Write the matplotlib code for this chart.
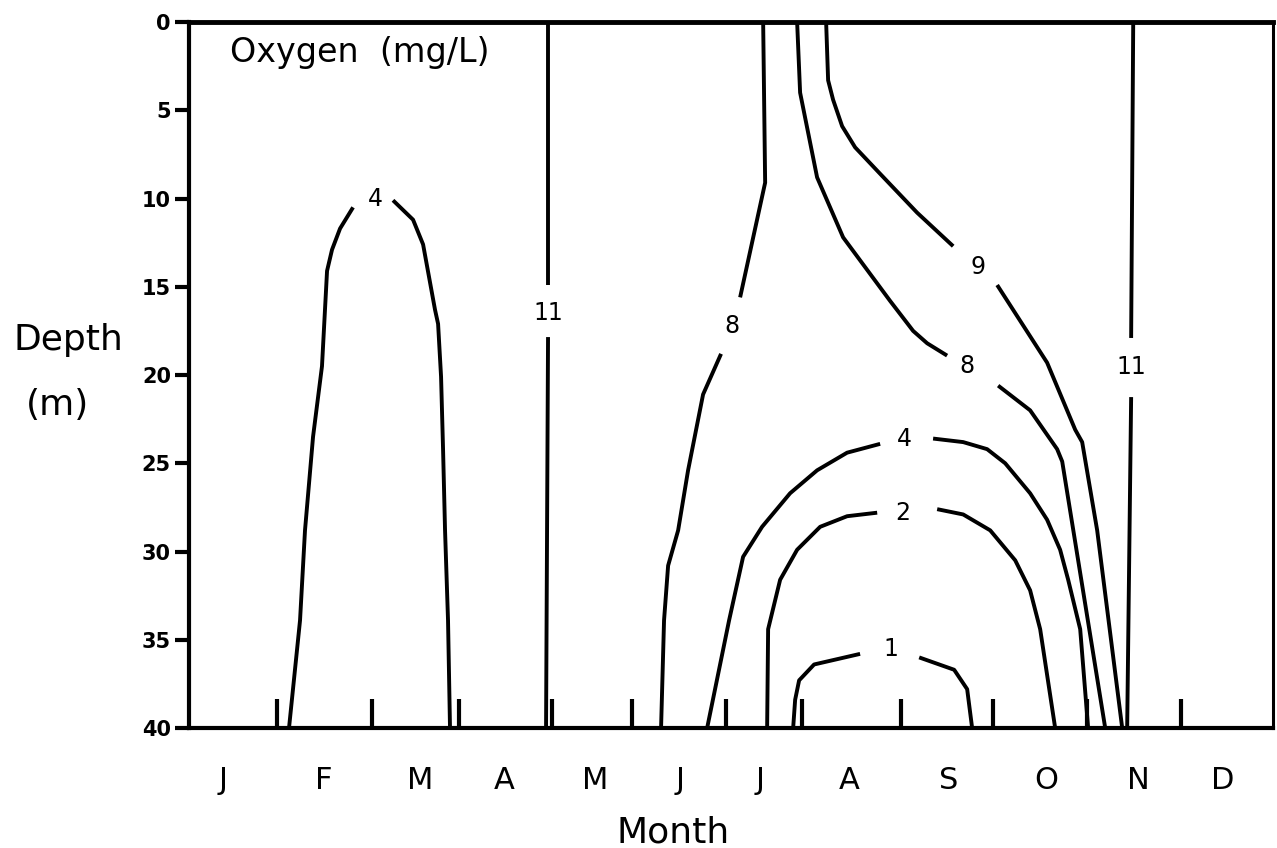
import matplotlib
matplotlib.use("Agg")
import matplotlib.pyplot as plt

# x = time of year in months (0 = start of Jan), y = depth in m
month_names = ["J", "F", "M", "A", "M", "J", "J", "A", "S", "O", "N", "D"]
month_pos = [0.38, 1.49, 2.56, 3.49, 4.50, 5.43, 6.32, 7.31, 8.41, 9.49, 10.51, 11.44]
sample_dates = [0.97, 2.03, 2.99, 4.02, 4.90, 5.94, 6.79, 7.88, 8.90, 9.94, 10.98]
depth_ticks = [0, 5, 10, 15, 20, 25, 30, 35, 40]

# isoline vertices (month, depth), split where the label sits
o4_winter_a = [(1.107, 40.0), (1.229, 33.9), (1.284, 28.8), (1.373, 23.5), (1.472, 19.5),
               (1.528, 14.1), (1.583, 12.9), (1.672, 11.7), (1.816, 10.5)]
o4_winter_b = [(2.258, 10.1), (2.480, 11.2), (2.591, 12.6), (2.723, 16.3), (2.757, 17.1),
               (2.790, 20.1), (2.812, 24.2), (2.834, 28.8), (2.867, 33.9), (2.889, 40.0)]
o11_spring_a = [(3.974, 0.0), (3.974, 14.9)]
o11_spring_b = [(3.974, 17.85), (3.952, 40.0)]
o8_early_a = [(6.355, 0.0), (6.377, 9.1), (6.100, 15.6)]
o8_early_b = [(5.889, 18.8), (5.690, 21.1), (5.524, 25.4), (5.414, 28.8), (5.303, 30.8),
              (5.258, 33.9), (5.225, 40.0)]
o8_late_a = [(6.731, 0.0), (6.764, 4.0), (6.952, 8.8), (7.240, 12.2), (7.760, 15.8),
             (8.015, 17.5), (8.170, 18.2), (8.391, 18.9)]
o8_late_b = [(8.956, 20.6), (9.310, 22.0), (9.609, 24.2), (9.665, 24.9), (10.141, 40.0)]
o9_a = [(7.052, 0.0), (7.074, 3.3), (7.129, 4.4), (7.229, 5.9), (7.373, 7.1), (7.650, 8.6),
        (8.059, 10.8), (8.458, 12.7)]
o9_b = [(8.945, 14.9), (9.498, 19.3), (9.809, 23.1), (9.886, 23.8), (10.052, 28.8),
        (10.329, 40.0)]
o4_summer_a = [(5.735, 40.0), (5.978, 33.9), (6.133, 30.3), (6.343, 28.6), (6.653, 26.7),
               (6.952, 25.4), (7.284, 24.4), (7.650, 23.9)]
o4_summer_b = [(8.236, 23.6), (8.569, 23.8), (8.834, 24.2), (9.034, 25.0), (9.310, 26.7),
               (9.498, 28.2), (9.642, 29.9), (9.731, 31.6), (9.864, 34.4), (9.952, 40.0)]
o2_a = [(6.399, 40.0), (6.410, 34.4), (6.543, 31.6), (6.731, 29.9), (6.986, 28.6),
        (7.284, 28.0), (7.617, 27.8)]
o2_b = [(8.281, 27.6), (8.569, 27.9), (8.868, 28.8), (9.145, 30.5), (9.310, 32.2),
        (9.421, 34.4), (9.587, 40.0)]
o1_a = [(6.687, 40.0), (6.709, 38.4), (6.753, 37.3), (6.919, 36.4), (7.428, 35.8)]
o1_b = [(8.082, 36.0), (8.469, 36.7), (8.613, 37.8), (8.668, 40.0)]
o11_autumn_a = [(10.451, 0.0), (10.428, 17.9)]
o11_autumn_b = [(10.428, 21.25), (10.384, 40.0)]

segments = [o4_winter_a, o4_winter_b, o11_spring_a, o11_spring_b, o8_early_a, o8_early_b,
            o8_late_a, o8_late_b, o9_a, o9_b, o4_summer_a, o4_summer_b, o2_a, o2_b,
            o1_a, o1_b, o11_autumn_a, o11_autumn_b]

label_text = ["4", "11", "8", "8", "9", "4", "2", "1", "11"]
label_month = [2.06, 3.974, 6.011, 8.613, 8.735, 7.915, 7.904, 7.772, 10.428]
label_depth = [10.0, 16.5, 17.2, 19.5, 13.9, 23.6, 27.8, 35.5, 19.55]

fig = plt.figure(figsize=(12.77, 8.48), dpi=100)
ax = fig.add_axes([0.148, 0.1415, 0.849, 0.8325])

for seg in segments:
    xs = [p[0] for p in seg]
    ys = [p[1] for p in seg]
    ax.plot(xs, ys, color="black", lw=2.8, solid_joinstyle="round", solid_capstyle="butt")

for t, x, y in zip(label_text, label_month, label_depth):
    ax.text(x, y, t, fontsize=17, ha="center", va="center")

ax.set_xlim(0, 12)
ax.set_ylim(40, 0)

ax.set_yticks(depth_ticks)
ax.set_yticklabels([str(d) for d in depth_ticks], fontsize=15, fontweight="bold")
ax.tick_params(axis="y", length=10, width=3, pad=3, direction="out")

ax.set_xticks(month_pos)
ax.set_xticklabels(month_names, fontsize=22)
ax.set_xticks(sample_dates, minor=True)
ax.tick_params(axis="x", which="major", length=0, pad=27)
ax.tick_params(axis="x", which="minor", length=21, width=3, direction="in")

for side in ["left", "bottom"]:
    ax.spines[side].set_linewidth(3)
ax.spines["top"].set_linewidth(3.5)
ax.spines["right"].set_linewidth(2.2)

ax.text(0.454, 2.27, "Oxygen  (mg/L)", fontsize=24, ha="left", va="baseline")

ax.set_xlabel("Month", fontsize=26)
ax.xaxis.set_label_coords(0.4465, -0.124)

fig.text(68 / 1277, 1 - 340 / 848, "Depth", fontsize=26, ha="center", va="center")
fig.text(58 / 1277, 1 - 405 / 848, "(m)", fontsize=26, ha="center", va="center")

fig.savefig("out.png", dpi=100)
